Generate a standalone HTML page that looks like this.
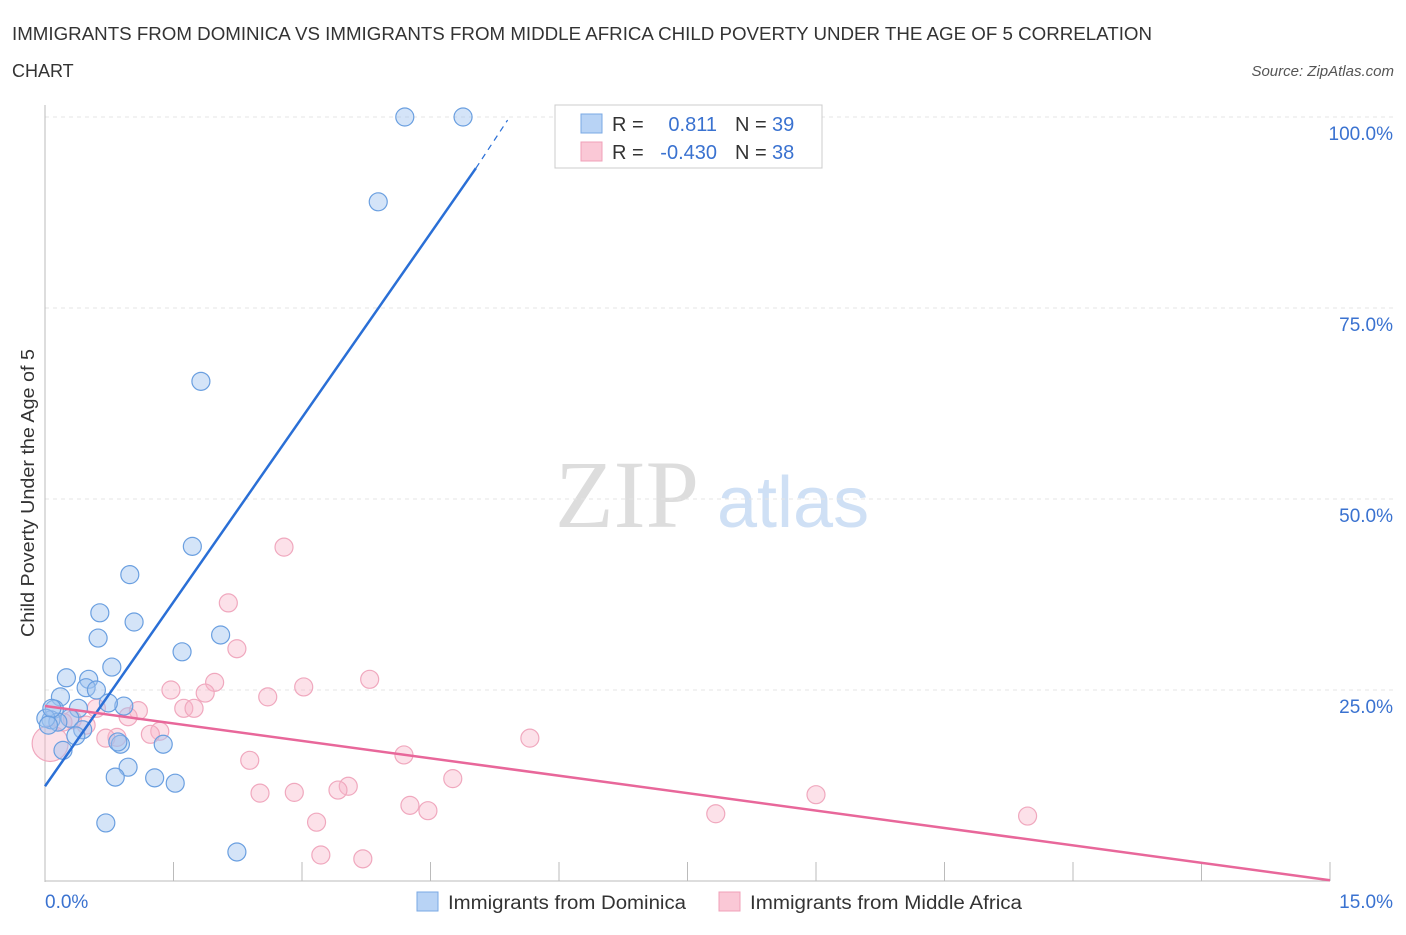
<!DOCTYPE html>
<html><head><meta charset="utf-8"><style>
body{margin:0;background:#fff;font-family:"Liberation Sans",sans-serif}
</style></head><body>
<svg id="c" width="1406" height="930" xmlns="http://www.w3.org/2000/svg" style="font-family:'Liberation Sans',sans-serif">
<text x="12" y="40" font-size="18" fill="#333" textLength="1140" lengthAdjust="spacingAndGlyphs">IMMIGRANTS FROM DOMINICA VS IMMIGRANTS FROM MIDDLE AFRICA CHILD POVERTY UNDER THE AGE OF 5 CORRELATION</text>
<text x="12" y="77" font-size="18" fill="#333">CHART</text>
<text x="1394" y="76" font-size="15" fill="#555" font-style="italic" text-anchor="end">Source: ZipAtlas.com</text>
<text x="555" y="527" font-size="96" fill="#ddd" font-family="Liberation Serif">ZIP</text>
<text x="717" y="527" font-size="72" fill="#cfe0f5">atlas</text>
<text transform="translate(34,493) rotate(-90)" font-size="18" fill="#333" text-anchor="middle" textLength="288" lengthAdjust="spacingAndGlyphs">Child Poverty Under the Age of 5</text>
<g id="grid"></g><g id="marks"></g>
<g>
<rect x="555" y="105" width="267" height="63" fill="#fff" stroke="#ccc"/>
<rect x="581" y="114" width="21" height="19" fill="#b8d3f5" stroke="#7aa8e4"/>
<rect x="581" y="142" width="21" height="19" fill="#fac8d6" stroke="#f0a0b8"/>
<text x="612" y="131" font-size="20" fill="#333">R =</text>
<text x="717" y="131" font-size="20" fill="#3a72d0" text-anchor="end">0.811</text>
<text x="735" y="131" font-size="20" fill="#333">N =</text>
<text x="772" y="131" font-size="20" fill="#3a72d0">39</text>
<text x="612" y="159" font-size="20" fill="#333">R =</text>
<text x="717" y="159" font-size="20" fill="#3a72d0" text-anchor="end">-0.430</text>
<text x="735" y="159" font-size="20" fill="#333">N =</text>
<text x="772" y="159" font-size="20" fill="#3a72d0">38</text>
</g>
<g>
<rect x="417" y="892" width="21" height="19" fill="#b8d3f5" stroke="#7aa8e4"/>
<text x="448" y="909" font-size="19" fill="#333" textLength="238" lengthAdjust="spacingAndGlyphs">Immigrants from Dominica</text>
<rect x="719" y="892" width="21" height="19" fill="#fac8d6" stroke="#f0a0b8"/>
<text x="750" y="909" font-size="19" fill="#333" textLength="272" lengthAdjust="spacingAndGlyphs">Immigrants from Middle Africa</text>
</g>
<text x="45" y="908" font-size="19" fill="#3a72d0">0.0%</text>
<text x="1393" y="908" font-size="19" fill="#3a72d0" text-anchor="end">15.0%</text>
</svg>
<script>
const blueX=[4.20,4.88,3.89,1.82,1.72,0.99,0.64,1.04,0.62,2.05,1.60,0.78,0.25,0.51,0.48,0.60,0.18,0.92,0.74,0.39,0.11,0.29,0.07,0.15,0.01,0.44,0.36,0.21,0.88,0.85,1.38,0.97,0.82,1.28,1.52,0.71,2.24,0.08,0.04];
const blueY=[100,100,88.9,65.4,43.8,40.1,35.1,33.9,31.8,32.2,30.0,28.0,26.6,26.4,25.3,25.0,24.1,22.9,23.3,22.6,22.5,21.3,21.1,20.8,21.3,19.8,19.0,17.1,17.9,18.2,17.9,14.9,13.6,13.5,12.8,7.6,3.8,22.6,20.4];
const pinkX=[2.79,2.14,2.24,3.79,3.02,1.47,1.98,2.60,1.87,1.62,1.74,1.09,0.97,1.34,1.23,0.84,0.71,0.60,0.32,0.48,0.21,0.06,5.66,4.19,2.39,3.54,3.42,2.51,2.91,4.76,4.26,4.47,3.17,7.83,9.00,11.47,3.22,3.71];
const pinkY=[43.7,36.4,30.4,26.4,25.4,25.0,26.0,24.1,24.6,22.6,22.6,22.3,21.5,19.6,19.2,18.8,18.7,22.6,21.1,20.4,20.8,18.0,18.7,16.5,15.8,12.4,11.9,11.5,11.6,13.4,9.9,9.2,7.7,8.8,11.3,8.5,3.4,2.9];
const yTicks=[25,50,75,100];
const yTickLabels=["25.0%","50.0%","75.0%","100.0%"];
const blueLine=[[0,12.4],[5.03,93.3],[5.4,99.6]];
const pinkLine=[[0,22.9],[15,0.1]];
const NS="http://www.w3.org/2000/svg";
const X=v=>45+v/15*1285, Y=v=>881-v*7.64;
function mk(t,a,p){const e=document.createElementNS(NS,t);for(const k in a)e.setAttribute(k,a[k]);p.appendChild(e);return e;}
const g=document.getElementById('grid'),m=document.getElementById('marks');
yTicks.forEach((t,i)=>{
 const l=mk('line',{x1:45,x2:1394,y1:Y(t),y2:Y(t),stroke:'#e4e4e4','stroke-dasharray':'4,4'},g);
 
 
 const tx=mk('text',{x:1393,y:Y(t)+23,'font-size':19,fill:'#3a72d0','text-anchor':'end'},g);
 tx.textContent=yTickLabels[i];
 
 
});
const ax=mk('line',{x1:45,x2:45,y1:105,y2:882,stroke:'#bbb'},g);


const bx=mk('line',{x1:45,x2:1330,y1:881,y2:881,stroke:'#bbb'},g);


for(let i=0;i<=10;i++){const v=i*1.5;
 const t=mk('line',{x1:X(v),x2:X(v),y1:862,y2:881,stroke:'#bbb'},g);
 
 }
pinkX.forEach((v,i)=>{
 const c=mk('circle',{cx:X(v),cy:Y(pinkY[i]),r:i===21?18:9,fill:'rgba(248,180,200,0.4)',stroke:'#f0a8be','stroke-width':1.2},m);
 
 
});
blueX.forEach((v,i)=>{
 const c=mk('circle',{cx:X(v),cy:Y(blueY[i]),r:9,fill:'rgba(160,195,240,0.45)',stroke:'#6a9fe0','stroke-width':1.2},m);
 
 
});
const b1=mk('line',{x1:X(blueLine[0][0]),y1:Y(blueLine[0][1]),x2:X(blueLine[1][0]),y2:Y(blueLine[1][1]),stroke:'#2a6fd6','stroke-width':2.5},m);


const b2=mk('line',{x1:X(blueLine[1][0]),y1:Y(blueLine[1][1]),x2:X(blueLine[2][0]),y2:Y(blueLine[2][1]),stroke:'#2a6fd6','stroke-width':1.2,'stroke-dasharray':'6,5'},m);


const p1=mk('line',{x1:X(pinkLine[0][0]),y1:Y(pinkLine[0][1]),x2:X(pinkLine[1][0]),y2:Y(pinkLine[1][1]),stroke:'#e8679a','stroke-width':2.5},m);


</script>
</body></html>
